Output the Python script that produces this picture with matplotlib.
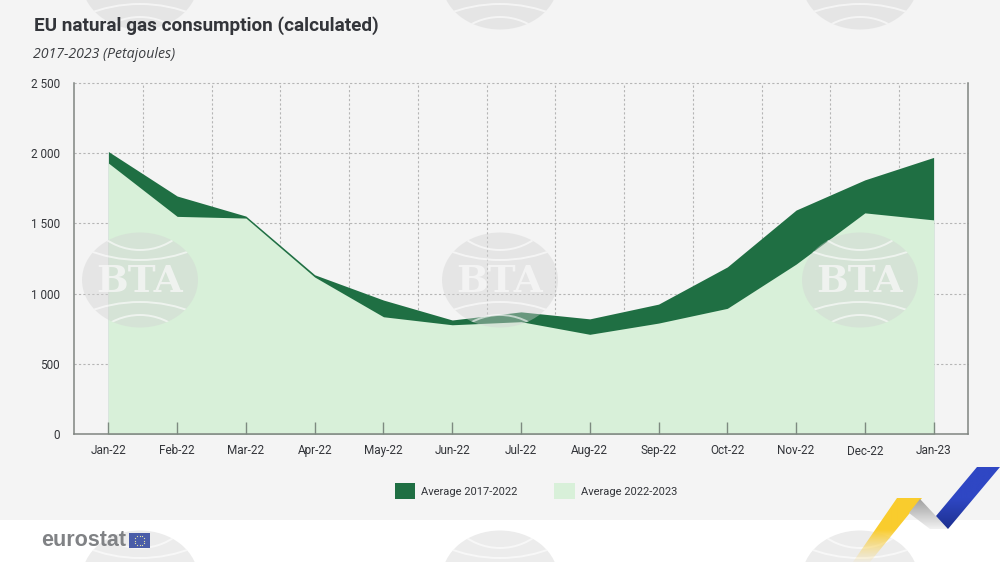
import numpy as np
import matplotlib
matplotlib.use("Agg")
import matplotlib.pyplot as plt
from matplotlib.colors import LinearSegmentedColormap
from matplotlib.patches import Ellipse, Polygon, Rectangle, Arc

months = ["Jan-22", "Feb-22", "Mar-22", "Apr-22", "May-22", "Jun-22", "Jul-22",
          "Aug-22", "Sep-22", "Oct-22", "Nov-22", "Dec-22", "Jan-23"]
avg_2017_2022 = [2012, 1695, 1552, 1134, 954, 812, 870, 820, 925, 1190, 1595, 1810, 1970]
avg_2022_2023 = [1930, 1550, 1538, 1118, 835, 778, 800, 710, 790, 895, 1210, 1575, 1525]
y_ticks = [0, 500, 1000, 1500, 2000, 2500]
y_tick_labels = ["0", "500", "1 000", "1 500", "2 000", "2 500"]
series_labels = ["Average 2017-2022", "Average 2022-2023"]
title = "EU natural gas consumption (calculated)"
subtitle = "2017-2023 (Petajoules)"

FONT = "Roboto"
DARK = "#1f6f43"
LIGHT = "#d8f0d9"
BG = "#f4f4f4"
TXT = "#33353a"
GRID = "#b5b5b5"

fig = plt.figure(figsize=(10, 5.62), dpi=100, facecolor="white")
W, H = 1000, 562
bg = fig.add_axes([0, 0, 1, 1], zorder=0)
bg.set_xlim(0, W); bg.set_ylim(H, 0); bg.axis("off")
bg.add_patch(Rectangle((0, 0), W, 520, color=BG, lw=0))

ax = fig.add_axes([74 / W, (H - 434) / H, 894 / W, 351 / H], zorder=1)
ax.patch.set_alpha(0)
x = np.arange(len(months))
ax.set_xlim(-0.5, len(months) - 0.5)
ax.set_ylim(0, 2500)
ax.fill_between(x, 0, avg_2017_2022, color=DARK, lw=0, zorder=1.5, label=series_labels[0])
ax.fill_between(x, 0, avg_2022_2023, color=LIGHT, lw=0, zorder=1.6, label=series_labels[1])

ax.set_yticks(y_ticks)
ax.set_yticklabels(y_tick_labels, family=FONT, fontsize=8.5, color=TXT)
ax.tick_params(axis="y", length=0, pad=10)
ax.set_xticks(x)
ax.set_xticklabels(months, family=FONT, fontsize=8.5, color=TXT)
ax.tick_params(axis="x", length=8.6, width=1, direction="in", color="#7d8a80", pad=7)
ax.xaxis.get_major_ticks()[11].set_pad(8.2)
ax.set_axisbelow(False)
for v in y_ticks[1:]:
    ax.axhline(v, color=GRID, ls=(0, (2, 2)), lw=0.8, zorder=1, clip_on=False)
for b in np.arange(0.5, len(months) - 1):
    ax.axvline(b, color=GRID, ls=(0, (2, 2)), lw=0.8, zorder=1)
ax.spines["top"].set_visible(False)
for s in ["left", "right", "bottom"]:
    ax.spines[s].set_color("#7f8480")
    ax.spines[s].set_linewidth(1.1)

fig.text(34 / W, 1 - 26 / H, title, family=FONT, weight="bold", fontsize=13.6,
         color=TXT, va="center", ha="left", zorder=5)
fig.text(33 / W, 1 - 54.5 / H, subtitle, family="Open Sans", style="italic", fontsize=10.2,
         color="#3c3e42", va="center", ha="left", zorder=5)

handles, labels = ax.get_legend_handles_labels()
fig.legend(handles, labels, loc="center", bbox_to_anchor=(536 / W, 1 - 491 / H), ncol=2,
           frameon=False, prop={"family": FONT, "size": 8}, handlelength=1.85,
           handleheight=1.9, handletextpad=0.55, columnspacing=3.3, labelcolor=TXT)

ov = fig.add_axes([0, 0, 1, 1], zorder=4)
ov.set_xlim(0, W); ov.set_ylim(H, 0); ov.axis("off"); ov.patch.set_alpha(0)

def watermark(cx, cy, with_text):
    e = Ellipse((cx, cy), 116, 95, color="#d2d2d2", alpha=0.42, lw=0)
    ov.add_patch(e)
    for yc, d, t1, t2 in [(cy - 90, 120, 0, 180), (cy - 163, 286, 0, 180),
                          (cy + 165, 286, 180, 360), (cy + 95, 120, 180, 360)]:
        a = Arc((cx, yc), d, d, theta1=t1, theta2=t2, color="white", lw=1.4, alpha=0.6)
        ov.add_patch(a)
        a.set_clip_path(e)
    if with_text:
        ov.text(cx, cy + 1, "BTA", family="DejaVu Serif", weight="bold", fontsize=27,
                color="#f8f8f8", alpha=0.75, ha="center", va="center")

for cx in (140, 500, 860):
    watermark(cx, -18, False)
    watermark(cx, 280, True)
    watermark(cx, 578, False)

def grad_poly(pts, colors, extent):
    cm = LinearSegmentedColormap.from_list("g", colors)
    g = np.linspace(0, 1, 128).reshape(-1, 1)
    im = ov.imshow(g, cmap=cm, extent=extent, aspect="auto", zorder=6, interpolation="bilinear",
                   origin="upper")
    p = Polygon(pts, transform=ov.transData, fc="none", ec="none")
    ov.add_patch(p)
    im.set_clip_path(p)

grad_poly([(897, 498), (922, 498), (870, 562), (853, 562)],
          [(0.98, 0.80, 0.18, 1), (0.98, 0.80, 0.18, 1), (0.98, 0.85, 0.45, 0.1)],
          (850, 925, 562, 498))
grad_poly([(920, 499), (948, 529), (930, 529), (909, 513)],
          ["#a0a0a0", "#f2f2f2"], (905, 950, 529, 499))
grad_poly([(977, 467), (1000, 467), (948, 529), (936, 516)],
          ["#2f47c4", "#2f47c4", "#1c2f8e"], (930, 1000, 530, 467))
ov.set_xlim(0, W); ov.set_ylim(H, 0)

ov.text(41, 541, "eurostat", family="Liberation Sans", weight="bold", fontsize=15.5,
        color="#808285", va="center", ha="left", zorder=7)
ov.add_patch(Rectangle((129, 533), 21, 15, color="#4a5da8", lw=0, zorder=7))
theta = np.linspace(0, 2 * np.pi, 12, endpoint=False)
ov.scatter(139.5 + 4.8 * np.cos(theta), 540.5 + 4.8 * np.sin(theta), s=0.8, color="#e8e6a8",
           lw=0, zorder=8)

fig.savefig("out.png", dpi=100, facecolor=fig.get_facecolor())
